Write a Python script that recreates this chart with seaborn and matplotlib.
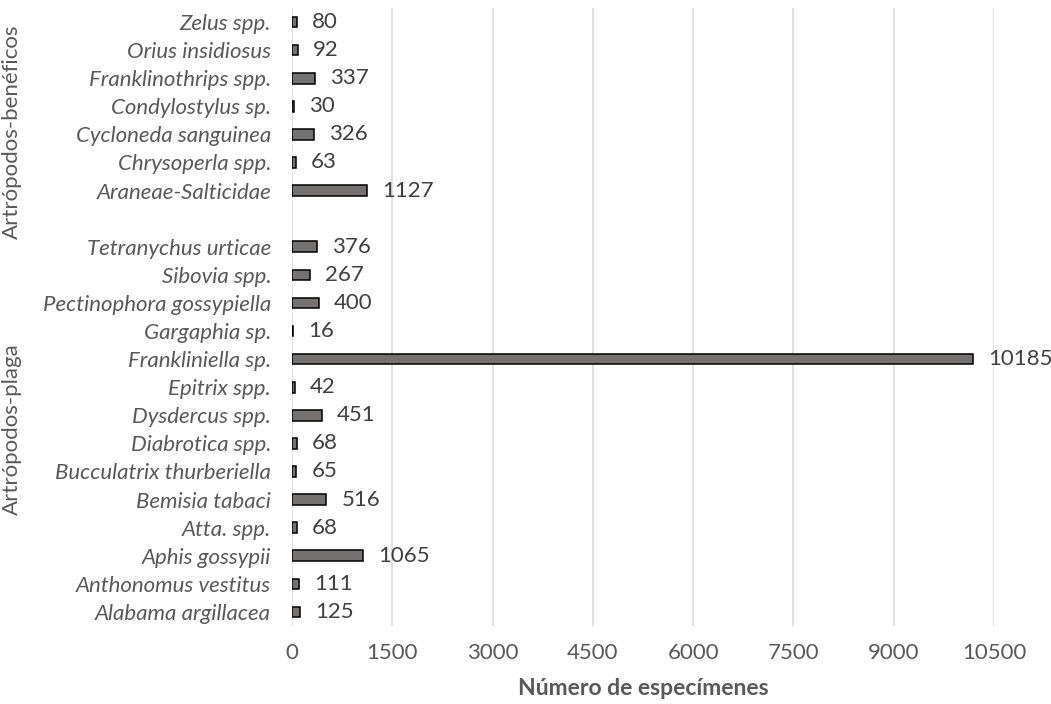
import pandas as pd
import seaborn as sns
import matplotlib.pyplot as plt

# gegevens
benef = ["Zelus spp.", "Orius insidiosus", "Franklinothrips spp.", "Condylostylus sp.",
         "Cycloneda sanguinea", "Chrysoperla spp.", "Araneae-Salticidae"]
benef_n = [80, 92, 337, 30, 326, 63, 1127]
plaga = ["Tetranychus urticae", "Sibovia spp.", "Pectinophora gossypiella", "Gargaphia sp.",
         "Frankliniella sp.", "Epitrix spp.", "Dysdercus spp.", "Diabrotica spp.",
         "Bucculatrix thurberiella", "Bemisia tabaci", "Atta. spp.", "Aphis gossypii",
         "Anthonomus vestitus", "Alabama argillacea"]
plaga_n = [376, 267, 400, 16, 10185, 42, 451, 68, 65, 516, 68, 1065, 111, 125]
groepen = ["Artrópodos-benéficos", "Artrópodos-plaga"]
xticks = [0, 1500, 3000, 4500, 6000, 7500, 9000, 10500]

sns.set_style("white")
plt.rcParams["font.family"] = ["Lato", "DejaVu Sans"]

df = pd.DataFrame({"soort": benef + plaga, "n": benef_n + plaga_n})
volgorde = benef + [" "] + plaga  # lege rij tussen de twee groepen

fig = plt.figure(figsize=(10.51, 7.04), dpi=100)
ax = fig.add_axes([292 / 1051, 1 - 626 / 704, (994 - 292) / 1051, (626 - 8) / 704])

grijs = "#595959"
sns.barplot(data=df, x="n", y="soort", order=volgorde, orient="h", color="#767171",
            saturation=1, edgecolor="black", linewidth=1.1, width=0.38, ax=ax)

# getallen naast de balken
for i, soort in enumerate(volgorde):
    if soort.strip() == "":
        continue
    v = int(df.loc[df.soort == soort, "n"].iloc[0])
    ax.annotate(str(v), (v, i), xytext=(15, 0), textcoords="offset pixels",
                va="center", ha="left", fontsize=16, color="#404040")

ax.set_xlim(0, 10500)
ax.set_xticks(xticks)
ax.xaxis.grid(True, color="#d9d9d9", linewidth=1.1)
ax.set_axisbelow(True)
for s in ax.spines.values():
    s.set_visible(False)
ax.tick_params(axis="both", length=0, labelsize=16, labelcolor=grijs)
ax.tick_params(axis="y", pad=15)
ax.tick_params(axis="x", pad=12)
for lab in ax.get_yticklabels():
    lab.set_fontstyle("italic")
ax.set_ylabel("")
ax.set_xlabel("Número de especímenes", fontsize=16.5, fontweight="bold", color=grijs, labelpad=11)

# groepslabels links
trans = ax.get_yaxis_transform()
ax.text(-0.399, 3.9, groepen[0], rotation=90, va="center", ha="center",
        fontsize=16, color=grijs, transform=trans)
ax.text(-0.399, 14.5, groepen[1], rotation=90, va="center", ha="center",
        fontsize=16, color=grijs, transform=trans)

plt.savefig("out.png", dpi=100)
